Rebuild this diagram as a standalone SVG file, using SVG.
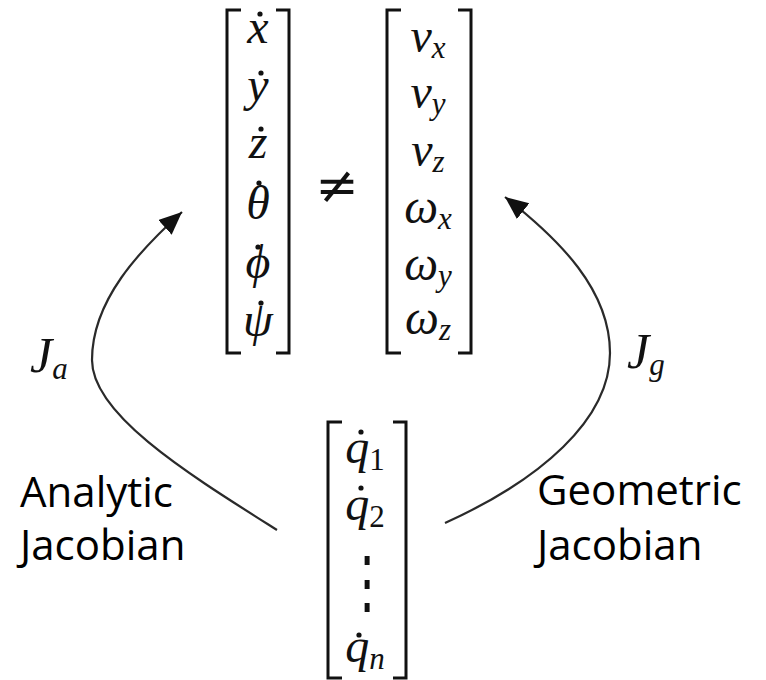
<svg xmlns="http://www.w3.org/2000/svg" width="766" height="680" viewBox="0 0 766 680">
<style>
.br{fill:none;stroke:#111;stroke-width:3}
.m{font-family:"Liberation Serif","DejaVu Serif",serif;font-style:italic;font-size:48px;fill:#111;text-anchor:middle}
.up{font-style:normal}
.sub{font-size:31px}
.lbl{font-family:"Open Sans","Liberation Sans",sans-serif;font-size:42px;fill:#000}
.arc{fill:none;stroke:#2a2a2a;stroke-width:2.2}
.dot{fill:#111}
</style>
<defs>
<marker id="ah" markerUnits="userSpaceOnUse" markerWidth="26" markerHeight="22" refX="23" refY="10" orient="auto">
<path d="M0,0 L23,10 L0,20 z" fill="#111"/>
</marker>
</defs>
<g id="connectors">
<path class="arc" d="M277,530 C190,475 92,415 92,360 C92,300 140,250 182,212" marker-end="url(#ah)"/>
<path class="arc" d="M445,523 C540,480 610,420 610,353 C610,290 560,240 505,197" marker-end="url(#ah)"/>
</g>
<g id="analytic-vector">
<path class="br" d="M241,10 H227 V353 H241"/>
<path class="br" d="M276,10 H289 V353 H276"/>
<text class="m" x="258" y="43">x</text>
<text class="m" x="258" y="101">y</text>
<text class="m" x="258" y="158">z</text>
<text class="m" x="258" y="219">θ</text>
<text class="m" x="258" y="278">ϕ</text>
<text class="m" x="258" y="336">ψ</text>
<circle class="dot" cx="260" cy="14" r="2.6"/>
<circle class="dot" cx="261" cy="73" r="2.6"/>
<circle class="dot" cx="261" cy="129" r="2.6"/>
<circle class="dot" cx="259" cy="183" r="2.6"/>
<circle class="dot" cx="258" cy="247" r="2.6"/>
<circle class="dot" cx="261" cy="303" r="2.6"/>
</g>
<g id="neq">
<text class="m up" x="337" y="203" style="font-family:'DejaVu Serif',serif;font-size:52px">≠</text>
</g>
<g id="geometric-vector">
<path class="br" d="M401,10 H387 V353 H401"/>
<path class="br" d="M458,10 H471 V353 H458"/>
<text class="m" x="428" y="52">v<tspan class="sub" dy="6">x</tspan></text>
<text class="m" x="428" y="108">v<tspan class="sub" dy="6">y</tspan></text>
<text class="m" x="428" y="166">v<tspan class="sub" dy="6">z</tspan></text>
<text class="m" x="428" y="223">ω<tspan class="sub" dy="6">x</tspan></text>
<text class="m" x="428" y="280">ω<tspan class="sub" dy="6">y</tspan></text>
<text class="m" x="428" y="334">ω<tspan class="sub" dy="6">z</tspan></text>
</g>
<g id="joint-vector">
<path class="br" d="M342,422 H328 V678 H342"/>
<path class="br" d="M393,422 H406 V678 H393"/>
<text class="m" x="365" y="463">q<tspan class="sub up" dy="7">1</tspan></text>
<text class="m" x="365" y="520">q<tspan class="sub up" dy="7">2</tspan></text>
<text class="m up" transform="translate(367,606) scale(1,1.45)" x="0" y="0" style="font-size:48px">⋮</text>
<text class="m" x="365" y="662">q<tspan class="sub" dy="7">n</tspan></text>
<circle class="dot" cx="361" cy="432" r="2.6"/>
<circle class="dot" cx="361" cy="488" r="2.6"/>
<circle class="dot" cx="359" cy="635" r="2.6"/>
</g>
<g id="label-ja">
<text class="m" x="30" y="372" style="font-size:50px;text-anchor:start">J<tspan class="sub" dy="7">a</tspan></text>
</g>
<g id="label-jg">
<text class="m" x="627" y="368" style="font-size:50px;text-anchor:start">J<tspan class="sub" dy="7">g</tspan></text>
</g>
<g id="label-analytic">
<text class="lbl" x="20" y="507">Analytic</text>
<text class="lbl" x="20" y="560">Jacobian</text>
</g>
<g id="label-geometric">
<text class="lbl" x="537" y="505">Geometric</text>
<text class="lbl" x="537" y="560">Jacobian</text>
</g>
</svg>
